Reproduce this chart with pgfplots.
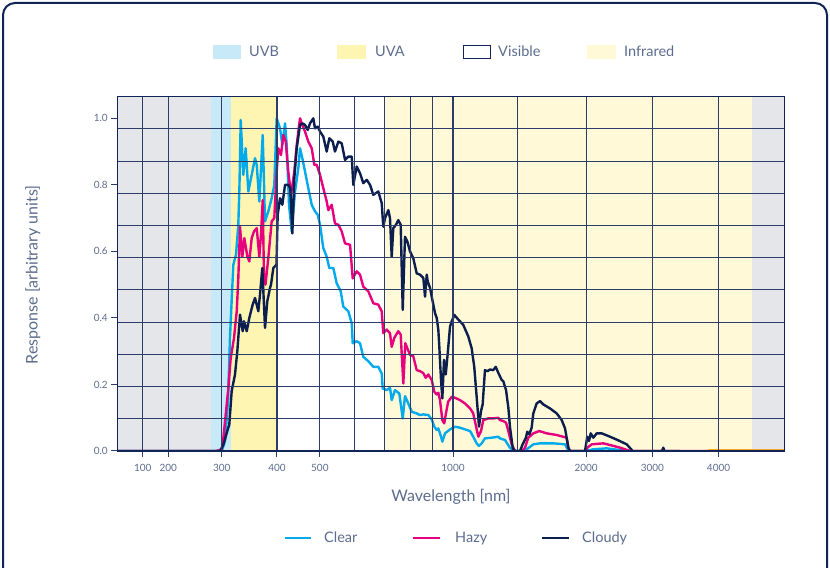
\documentclass[border=0pt]{standalone}
\usepackage{fontspec}
\setmainfont{Lato}
\usepackage{pgfplots}
\pgfplotsset{compat=1.18}

\definecolor{clearc}{RGB}{0,170,235}
\definecolor{hazyc}{RGB}{230,0,126}
\definecolor{cloudyc}{RGB}{12,30,78}
\definecolor{uvbc}{RGB}{200,233,248}
\definecolor{uvac}{RGB}{255,245,178}
\definecolor{irc}{RGB}{255,249,216}
\definecolor{grayc}{RGB}{229,230,233}
\definecolor{gridc}{RGB}{45,60,104}
\definecolor{framec}{RGB}{16,36,88}
\definecolor{textc}{RGB}{92,108,142}
\definecolor{tailc}{RGB}{245,166,35}

\pgfplotsset{table/wl/.style={x expr={wlpos(\thisrowno{0})}, y index=1}}

\begin{document}
\begin{tikzpicture}[x=1pt, y=1pt,
  % wavelength (nm) -> position along the x axis:
  % linear up to 300 nm, logarithmic from 300 to 2000 nm, linear above
  declare function={wlpos(\w)=(\w<200) ? (117.3+0.255*\w) : ((\w<300) ? (168.3+0.534*(\w-200)) : ((\w<2000) ? (453+192.1*ln(max(\w,1)/1000)) : (586.15+0.0662*(\w-2000))));}]
\path (0pt,0pt) rectangle (830pt,568pt);
% outer frame
\draw[framec, line width=2pt, rounded corners=12pt] (3pt,0pt) -- (3pt,565pt) -- (827pt,565pt) -- (827pt,0pt);

\begin{axis}[
  at={(117.3pt,117pt)}, anchor=south west,
  scale only axis, width=667.45pt, height=354.3pt,
  axis on top,
  xmin=117.3, xmax=784.75, ymin=0, ymax=1.065,
  xtick={142.8,168.3,221.7,276.98,319.85,453,586.15,652.35,718.55},
  xticklabels={100,200,300,400,500,1000,2000,3000,4000},
  minor xtick={354.87,384.48,410.13,432.76,517.64},
  ytick={0,0.2,0.4,0.6,0.8,1.0},
  yticklabels={0.0,0.2,0.4,0.6,0.8,1.0},
  minor ytick={0.0968,0.1936,0.2905,0.3873,0.4841,0.5809,0.6777,0.7745,0.8714,0.9682},
  xmajorgrids, xminorgrids, yminorgrids, ymajorgrids=false,
  major grid style={gridc, line width=1.1pt},
  minor grid style={gridc, line width=1.1pt},
  tick align=outside, xtick pos=left, ytick pos=left,
  major tick length=6pt, minor tick length=0pt,
  tick style={gridc, line width=1pt},
  ticklabel style={font=\fontsize{10}{12}\selectfont, text=textc},
  xticklabel style={yshift=-4pt},
  axis line style={framec, line width=1.3pt},
  xlabel={Wavelength [nm]},
  ylabel={Response [arbitrary units]},
  xlabel style={at={(axis description cs:0.5,-0.13)}, anchor=center, font=\fontsize{16}{18}\selectfont, text=textc},
  ylabel style={at={(axis description cs:-0.1264,0.497)}, anchor=center, font=\fontsize{16}{18}\selectfont, text=textc},
  no markers,
  every axis plot post/.append style={line width=2.4pt, line join=round},
]
% spectral bands
\addplot[fill=grayc, draw=none] table[wl] {
0 0
0 1.1
280 1.1
280 0
};
\addplot[fill=uvbc, draw=none] table[wl] {
280 0
280 1.1
315 1.1
315 0
};
\addplot[fill=uvac, draw=none] table[wl] {
315 0
315 1.1
400 1.1
400 0
};
\addplot[fill=irc, draw=none] table[wl] {
700 0
700 1.1
4500 1.1
4500 0
};
\addplot[fill=grayc, draw=none] table[wl] {
4500 0
4500 1.1
5000 1.1
5000 0
};

% heavy base line along zero response
\addplot[framec, line width=3pt] table[wl] {
0 0
5000 0
};

% Clear
\addplot[clearc] table[wl] {
0 0
290 0
300 0
305.2 0.03
310.0 0.15
313.2 0.34
318.7 0.56
323.2 0.59
327.1 0.68
329.1 0.80
331.2 0.995
335.7 0.83
339.9 0.91
344.6 0.78
350.7 0.83
356.8 0.88
360.0 0.86
364.9 0.75
371.4 0.95
375.9 0.69
382.4 0.72
389.2 0.76
394.5 0.80
399.5 1.00
406.4 0.97
411.3 0.92
417.1 0.985
420.8 0.92
425.9 0.74
431.9 0.66
439.4 0.78
447.0 0.85
451.0 0.91
456.4 0.88
462.9 0.84
470.9 0.79
479.3 0.74
487.6 0.72
494.5 0.71
500.5 0.68
509.1 0.61
518.2 0.584
525.3 0.55
536.3 0.55
545.9 0.504
557.4 0.48
565.0 0.434
579.9 0.42
590.3 0.384
593.3 0.324
605.8 0.33
616.3 0.324
627.0 0.283
643.5 0.27
660.5 0.253
677.9 0.253
690.0 0.233
693.6 0.188
708.2 0.183
720.5 0.19
726.9 0.153
739.5 0.183
756.2 0.173
769.8 0.098
779.0 0.165
792.5 0.143
806.7 0.118
827.9 0.113
842.3 0.108
856.9 0.11
879.5 0.108
895.2 0.095
907.4 0.073
918.8 0.063
926.5 0.068
939.6 0.043
946.0 0.028
959.4 0.053
984.7 0.065
1011 0.073
1037 0.07
1064 0.065
1093 0.06
1111 0.043
1131 0.023
1145 0.015
1161 0.023
1181 0.038
1223 0.04
1266 0.043
1277 0.038
1311 0.033
1345 0.01
1369 0
1417 0
1468 0.005
1519 0.02
1573 0.023
1686 0.023
1792 0.02
1823 0
2000 0
2103 0.005
2310 0.008
2613 0
2700 0
};

% Hazy
\addplot[hazyc] table[wl] {
0 0
290 0
300 0.005
302.5 0.038
306.8 0.118
310.5 0.188
314.4 0.279
319.8 0.339
324.4 0.419
327.1 0.519
330.0 0.674
334.0 0.584
337.5 0.64
342.8 0.585
346.4 0.57
350.7 0.64
354.9 0.66
360.0 0.67
364.9 0.584
368.1 0.65
371.4 0.754
373.9 0.52
376.8 0.50
382.4 0.58
389.2 0.69
394.5 0.70
399.5 0.84
402.8 0.91
408.5 0.89
413.4 0.95
418.6 0.93
424.3 0.84
430.3 0.77
437.8 0.84
443.3 0.92
451.0 1.00
456.4 0.98
462.9 0.96
470.9 0.93
479.3 0.91
485.9 0.86
492.0 0.86
500.5 0.83
509.1 0.79
518.2 0.75
522.5 0.724
531.8 0.74
541.0 0.684
550.5 0.68
560.3 0.66
570.1 0.624
585.2 0.62
593.3 0.519
605.8 0.54
616.3 0.53
627.0 0.494
643.5 0.48
660.5 0.444
677.9 0.44
690.0 0.42
695.8 0.354
708.2 0.365
720.5 0.354
726.9 0.313
736.7 0.34
752.3 0.36
761.8 0.35
772.2 0.203
780.2 0.324
799.6 0.289
813.0 0.285
827.9 0.243
842.3 0.24
856.9 0.234
867.7 0.22
879.5 0.23
895.2 0.213
907.4 0.178
918.8 0.17
926.5 0.175
934.7 0.153
946.0 0.093
955.3 0.083
963 0.11
975 0.148
993.4 0.163
1010.5 0.16
1037 0.153
1064 0.143
1093 0.128
1111 0.113
1125 0.08
1141 0.043
1157 0.06
1171 0.093
1202 0.098
1233 0.098
1266 0.10
1277 0.093
1299 0.09
1318 0.085
1334 0.06
1357 0.02
1381 0
1430 0
1455 0.01
1480 0.04
1519 0.053
1567 0.06
1629 0.053
1716 0.048
1807 0.04
1823 0.01
1839 0
2000 0
2017 0.01
2084 0.02
2259 0.023
2360 0.018
2511 0.01
2662 0
3841 0
};

% Cloudy
\addplot[cloudyc] table[wl] {
0 0
290 0
297 0
302.5 0.018
307.9 0.054
312.1 0.08
316.0 0.18
321.5 0.23
325.4 0.30
330.0 0.41
334.7 0.36
336.9 0.39
341.7 0.36
346.4 0.40
352.5 0.44
356.8 0.46
363.0 0.42
366.2 0.47
370.6 0.55
375.9 0.37
380.4 0.45
385.8 0.49
387.8 0.50
392.5 0.55
399 0.56
401.5 0.71
406.4 0.76
411.3 0.74
417.1 0.80
424.3 0.80
428.8 0.79
433.3 0.654
437.8 0.82
443.3 0.91
451.0 0.98
456.4 0.985
462.9 0.98
469.4 0.965
475.1 0.985
483.3 1.00
487.6 0.97
494.5 0.975
500.5 0.96
509.1 0.945
518.2 0.90
525.3 0.94
534.7 0.93
541.0 0.90
550.5 0.93
560.3 0.925
570.1 0.875
579.9 0.885
590.3 0.885
595.2 0.80
605.8 0.855
616.3 0.835
627.0 0.805
638.2 0.815
649.3 0.80
660.5 0.77
677.9 0.78
690.0 0.745
695.8 0.674
702.0 0.70
714.2 0.724
720.5 0.70
726.9 0.584
733.0 0.67
743.4 0.68
752.3 0.694
761.8 0.68
769.8 0.424
779.0 0.644
788.4 0.63
799.6 0.60
813.0 0.58
827.9 0.534
842.3 0.53
856.9 0.52
864.5 0.464
872.2 0.53
876.7 0.51
887.3 0.49
902.7 0.44
910.7 0.414
918.8 0.40
926.5 0.364
931.3 0.313
939.6 0.213
946.0 0.158
954.4 0.274
963 0.23
973 0.294
984.7 0.374
993.4 0.39
1007 0.409
1028 0.395
1055 0.379
1083 0.344
1102 0.309
1117 0.253
1131 0.163
1145 0.073
1157 0.12
1167 0.14
1181 0.243
1198 0.24
1212 0.245
1233 0.243
1249 0.253
1266 0.235
1289 0.213
1299 0.21
1318 0.183
1334 0.13
1345 0.073
1365 0.008
1381 0
1417 0
1437 0.02
1462 0.04
1472 0.058
1488 0.05
1506 0.07
1519 0.113
1546 0.143
1573 0.150
1600 0.14
1657 0.128
1716 0.113
1761 0.093
1792 0.068
1823 0.01
1839 0
1988 0
2017 0.043
2043 0.03
2069 0.053
2108 0.04
2159 0.053
2235 0.053
2360 0.043
2486 0.032
2613 0.02
2703 0
3145 0
3165 0.01
3183 0
3403 0
3418 0
};

% faint tail of the long-wave record
\addplot[tailc, line width=1.6pt] table[wl] {
3841 0.003
5000 0.003
};
\end{axis}

% band key
\begin{scope}[font=\fontsize{14.5}{16}\selectfont, text=textc]
\fill[uvbc] (213pt,509pt) rectangle (241pt,523pt);
\node[anchor=base west, inner sep=0pt] at (249pt,511pt) {UVB};
\fill[uvac] (337pt,509pt) rectangle (366pt,523pt);
\node[anchor=base west, inner sep=0pt] at (375pt,511pt) {UVA};
\draw[framec, line width=1.2pt, fill=white] (463.5pt,509.5pt) rectangle (490.5pt,522.5pt);
\node[anchor=base west, inner sep=0pt] at (498pt,511pt) {Visible};
\fill[irc] (587pt,509pt) rectangle (616pt,523pt);
\node[anchor=base west, inner sep=0pt] at (624pt,511pt) {Infrared};

% series key
\draw[clearc, line width=2.5pt] (285pt,30pt) -- (311pt,30pt);
\node[anchor=base west, inner sep=0pt] at (324pt,25pt) {Clear};
\draw[hazyc, line width=2.5pt] (413pt,30pt) -- (440pt,30pt);
\node[anchor=base west, inner sep=0pt] at (455pt,25pt) {Hazy};
\draw[cloudyc, line width=2.5pt] (542pt,30pt) -- (569pt,30pt);
\node[anchor=base west, inner sep=0pt] at (582pt,25pt) {Cloudy};
\end{scope}
\end{tikzpicture}
\end{document}
